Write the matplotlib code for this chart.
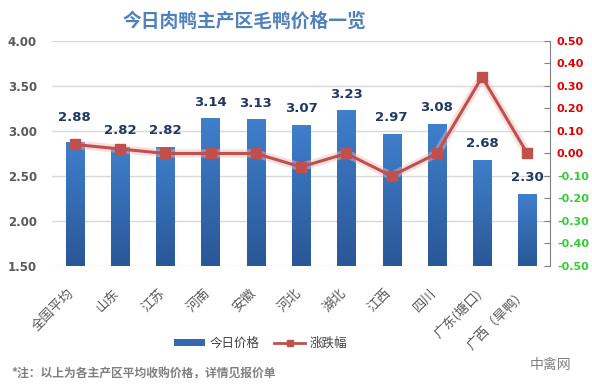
import matplotlib
matplotlib.use("Agg")
import matplotlib.pyplot as plt
import numpy as np
from matplotlib.lines import Line2D
from matplotlib.patches import Patch
from matplotlib.transforms import ScaledTranslation

plt.rcParams['font.family'] = ['Noto Sans CJK SC', 'DejaVu Sans']

# data
regions = ['全国平均', '山东', '江苏', '河南', '安徽', '河北', '湖北', '江西', '四川', '广东(塘口)', '广西（旱鸭）']
prices = [2.88, 2.82, 2.82, 3.14, 3.13, 3.07, 3.23, 2.97, 3.08, 2.68, 2.30]
changes = [0.04, 0.02, 0.00, 0.00, 0.00, -0.06, 0.00, -0.10, 0.00, 0.34, 0.00]
left_ticks = [1.5, 2.0, 2.5, 3.0, 3.5, 4.0]
right_ticks = [-0.5, -0.4, -0.3, -0.2, -0.1, 0.0, 0.1, 0.2, 0.3, 0.4, 0.5]

fig = plt.figure(figsize=(5.92, 3.9), dpi=100)
ax = fig.add_axes([0.088, 0.318, 0.841, 0.577])
ax2 = ax.twinx()

x = np.arange(len(regions))
bars = ax.bar(x, prices, width=0.4, color='#3468b0', zorder=2)

# vertical gradient inside every bar
grad = np.linspace(0, 1, 100).reshape(-1, 1)
cmap = matplotlib.colors.LinearSegmentedColormap.from_list('b', ['#2a5796', '#3f7fcc'])
for b in bars:
    x0, w, h = b.get_x(), b.get_width(), b.get_height()
    im = ax.imshow(grad, extent=[x0, x0 + w, 1.5, h], origin='lower', cmap=cmap,
                   aspect='auto', zorder=2)
    im.set_clip_path(b)

for i, (xi, p) in enumerate(zip(x, prices)):
    off = 13 if i == 0 else 7
    ax.annotate(f'{p:.2f}', (xi, p), xytext=(0, off), textcoords='offset points',
                ha='center', va='bottom', fontsize=9.5, fontweight='bold',
                color='#1f3864', family=['DejaVu Sans'])

ax.set_xlim(-0.5, len(regions) - 0.5)
ax.set_ylim(1.5, 4.0)
ax.set_yticks(left_ticks)
ax.set_yticklabels([f'{t:.2f}' for t in left_ticks], fontsize=8.5, color='#595959',
                   fontweight='bold', family=['DejaVu Sans'])
ax.yaxis.grid(True, color='#d9d9d9', linewidth=1, zorder=0)
ax.set_axisbelow(True)
ax.tick_params(axis='y', length=0, pad=11)
ax.tick_params(axis='x', length=0, pad=15)
ax.set_xticks(x)
ax.set_xticklabels(regions, rotation=45, ha='right', rotation_mode='anchor',
                   fontsize=9.5, color='#595959')
shift = ScaledTranslation(-5 / 72, 0, fig.dpi_scale_trans)
for lab in ax.get_xticklabels():
    lab.set_transform(lab.get_transform() + shift)
for s in ['top', 'left', 'right', 'bottom']:
    ax.spines[s].set_visible(False)

# soft glow under the line, then the line with markers
ax2.plot(x, changes, color='#f2b8b5', linewidth=6, alpha=0.45, zorder=3,
         solid_capstyle='round', solid_joinstyle='round')
ax2.plot(x, changes, color='#c0504d', linewidth=2.2, marker='s', markersize=7, zorder=4)
ax2.set_ylim(-0.5, 0.5)
ax2.set_yticks(right_ticks)
ax2.set_yticklabels([f'{t:.2f}' for t in right_ticks], fontsize=8, fontweight='bold',
                    family=['DejaVu Sans'])
for t, lab in zip(right_ticks, ax2.get_yticklabels()):
    lab.set_color('#e00000' if t >= 0 else '#33cc33')
ax2.tick_params(axis='y', direction='in', length=4, color='#808080', pad=5)
for s in ['top', 'left', 'bottom']:
    ax2.spines[s].set_visible(False)
ax2.spines['right'].set_color('#808080')

fig.text(0.413, 0.945, '今日肉鸭主产区毛鸭价格一览', ha='center', va='center',
         fontsize=13.5, fontweight='bold', color='#4f81bd')

handles = [Patch(facecolor='#3468b0'),
           Line2D([0], [0], color='#c0504d', linewidth=2, marker='s', markersize=5)]
fig.legend(handles, ['今日价格', '涨跌幅'], loc='center', bbox_to_anchor=(0.44, 0.12),
           ncol=2, frameon=False, fontsize=9, handlelength=2.5, handleheight=0.5,
           columnspacing=1.2, handletextpad=0.3, labelcolor='#404040')

fig.text(0.02, 0.04, '*注：以上为各主产区平均收购价格，详情见报价单', ha='left', va='center',
         fontsize=8.5, fontweight='bold', color='#808080')
fig.text(0.93, 0.064, '中禽网', ha='center', va='center', fontsize=10, color='#808080')

fig.savefig('out.png', dpi=100)
